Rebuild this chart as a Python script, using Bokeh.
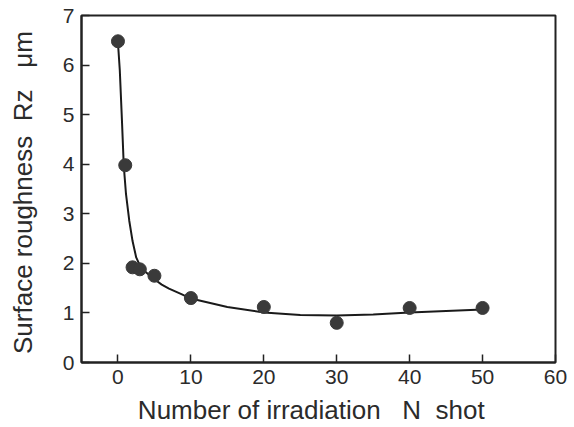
from bokeh.plotting import figure
from bokeh.models import Range1d, FixedTicker
from bokeh.embed import file_html
from bokeh.resources import INLINE

# measured points
shots = [0, 1, 2, 3, 5, 10, 20, 30, 40, 50]
rz = [6.48, 3.98, 1.92, 1.88, 1.75, 1.30, 1.12, 0.80, 1.10, 1.10]

# fitted curve
curve_x = [0, 0.25, 0.55, 0.8, 1.1, 1.55, 2.0, 2.5, 3.0, 3.5, 4.0, 5.0, 6.0, 7.0,
           8.7, 10, 15, 20, 25, 30, 35, 40, 45, 50]
curve_y = [6.45, 5.9, 4.87, 3.96, 3.4, 2.86, 2.45, 2.12, 1.96, 1.86, 1.8, 1.68, 1.57,
           1.49, 1.38, 1.29, 1.12, 1.01, 0.96, 0.95, 0.97, 1.01, 1.04, 1.07]

x_ticks = [0, 10, 20, 30, 40, 50, 60]
y_ticks = [0, 1, 2, 3, 4, 5, 6, 7]

NB = "\u00a0"
FONT = "Liberation Sans"
TXT = "#2b2b2b"

p = figure(width=570, height=427, output_backend="svg", toolbar_location=None,
           x_range=Range1d(-5, 60), y_range=Range1d(0, 7),
           min_border_left=81, min_border_top=15, min_border_right=15,
           min_border_bottom=65)
p.xgrid.visible = False
p.ygrid.visible = False
p.outline_line_color = "#222222"
p.outline_line_width = 2
p.outline_line_alpha = 1

p.line(curve_x, curve_y, line_color="#1a1a1a", line_width=2)
p.scatter(shots, rz, size=13, fill_color="#3a3a3a", line_color="#3a3a3a")

for ax in (p.xaxis[0], p.yaxis[0]):
    ax.axis_line_color = "#222222"
    ax.axis_line_width = 2
    ax.major_tick_in = 8
    ax.major_tick_out = 0
    ax.major_tick_line_color = "#222222"
    ax.major_tick_line_width = 1.5
    ax.minor_tick_line_color = None
    ax.major_label_text_font = FONT
    ax.major_label_text_font_size = "21px"
    ax.major_label_text_color = TXT
    ax.axis_label_text_font = FONT
    ax.axis_label_text_font_size = "26px"
    ax.axis_label_text_font_style = "normal"
    ax.axis_label_text_color = TXT

p.xaxis.ticker = FixedTicker(ticks=x_ticks)
p.yaxis.ticker = FixedTicker(ticks=y_ticks)
p.xaxis.major_label_standoff = 7
p.yaxis.major_label_standoff = 7
p.xaxis.axis_label_standoff = 8
p.yaxis.axis_label_standoff = 22
p.xaxis.axis_label = "Number of irradiation" + NB * 3 + "N" + NB * 2 + "shot" + NB * 2
p.yaxis.axis_label = "Surface roughness" + NB * 2 + "Rz" + NB * 3 + "\u03bcm" + NB

open("out.html", "w").write(file_html(p, INLINE))
